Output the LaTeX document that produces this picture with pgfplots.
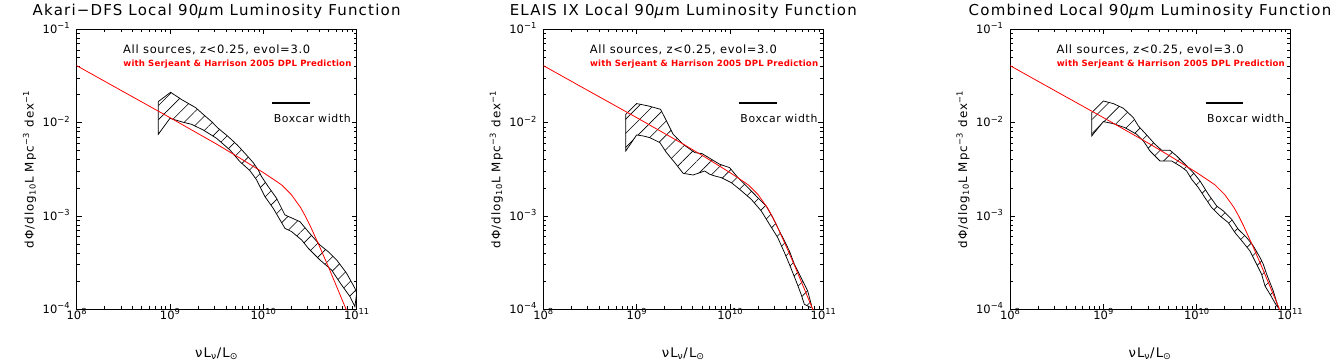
\documentclass[border=0pt]{standalone}
\usepackage{fontspec}
\setmainfont{DejaVu Sans}
\usepackage{graphicx}
\usepackage{pgfplots}
\usepackage{pgfplotstable}
\pgfplotsset{compat=1.18}
\usetikzlibrary{patterns.meta}

\definecolor{idlred}{RGB}{255,0,0}

\newcommand\ttlfont{\fontsize{15}{18}\selectfont\addfontfeatures{LetterSpace=8}}
\newcommand\tickfont{\fontsize{11.5}{13}\selectfont}
\newcommand\labfont{\fontsize{11.5}{14}\selectfont\addfontfeatures{LetterSpace=9}}
\newcommand\notefont{\fontsize{11.2}{13}\selectfont\addfontfeatures{LetterSpace=6}}
\newcommand\redfont{\fontsize{8.8}{11}\selectfont\bfseries\addfontfeatures{LetterSpace=2}}
% decade labels with an IDL-like raised exponent
\newcommand\dec[1]{10\raisebox{4.8pt}{\fontsize{8.3}{10}\selectfont #1}}

\tikzset{
  band/.style={draw=black, line width=0.75pt,
    pattern={Lines[angle=45,distance=10pt,line width=0.6pt]}},
  model/.style={color=idlred, line width=0.8pt},
}

\pgfplotsset{
  lfpanel/.style={
    scale only axis, width=280pt, height=280pt,
    anchor=south west, clip mode=individual,
    xmin=1e8, xmax=1e11, ymin=1e-4, ymax=1e-1,
    xtick={1e8,1e9,1e10,1e11},
    ytick={1e-4,1e-3,1e-2,1e-1},
    minor xtick={2e8,3e8,4e8,5e8,6e8,7e8,8e8,9e8,2e9,3e9,4e9,5e9,6e9,7e9,8e9,9e9,
                 2e10,3e10,4e10,5e10,6e10,7e10,8e10,9e10},
    minor ytick={2e-4,3e-4,4e-4,5e-4,6e-4,7e-4,8e-4,9e-4,2e-3,3e-3,4e-3,5e-3,6e-3,7e-3,8e-3,9e-3,
                 2e-2,3e-2,4e-2,5e-2,6e-2,7e-2,8e-2,9e-2},
    xticklabels={\dec{8},\dec{9},\dec{10},\dec{11}},
    yticklabels={\dec{−4},\dec{−3},\dec{−2},\dec{−1}},
    tick align=inside,
    major tick length=5pt, minor tick length=3pt,
    axis line style={line width=0.8pt},
    every tick/.style={black, line width=0.7pt},
    tick label style={font=\tickfont},
    xticklabel style={anchor=base, yshift=-10.5pt},
    yticklabel style={anchor=base east, xshift=-3.5pt, yshift=-4.3pt},
    xlabel={\resizebox{43pt}{!}{νL\textsubscript{ν}/L\textsubscript{⊙}}},
    ylabel={\resizebox{158pt}{!}{dΦ/dlog\textsubscript{10}L Mpc\textsuperscript{−3} dex\textsuperscript{−1}}},
    xlabel style={at={(axis description cs:0.5,-0.1714)}, anchor=base, font=\labfont},
    ylabel style={at={(axis description cs:-0.1536,0.5)}, anchor=base, font=\labfont},
    title style={at={(axis description cs:0.5,1.027)}, anchor=base, font=\ttlfont},
  }
}

\newcommand\panelnotes{%
  \node[anchor=base west, font=\notefont, inner sep=0pt] at (rel axis cs:0.1655,0.914)
    {\resizebox{187pt}{!}{All sources, z<0.25, evol=3.0}};
  \node[anchor=base west, font=\redfont, text=idlred, inner sep=0pt] at (rel axis cs:0.1665,0.867)
    {\resizebox{228pt}{!}{with Serjeant \& Harrison 2005 DPL Prediction}};
  \node[anchor=base west, font=\notefont, inner sep=0pt] at (rel axis cs:0.7035,0.6665)
    {\resizebox{77pt}{!}{Boxcar width}};
  \addplot[black, line width=2pt] coordinates {(1.247e10,0.01637) (3.162e10,0.01637)};
}

\pgfplotstableread{
L        phi
1e8      4.083e-2
3.162e8  2.148e-2
1e9      1.132e-2
3.162e9  5.888e-3
5.623e9  4.169e-3
1e10     2.917e-3
1.413e10 2.317e-3
1.585e10 2.138e-3
1.778e10 1.905e-3
1.995e10 1.698e-3
2.239e10 1.445e-3
2.512e10 1.230e-3
2.818e10 1.000e-3
3.162e10 7.943e-4
3.548e10 6.166e-4
3.981e10 4.786e-4
4.467e10 3.673e-4
5.012e10 2.818e-4
5.623e10 2.138e-4
6.310e10 1.622e-4
7.079e10 1.230e-4
7.943e10 9.333e-5
}\dplmodel

\begin{document}
\begin{tikzpicture}
\path[use as bounding box] (0,0) rectangle (1342pt,363pt);

% Akari-DFS
\begin{loglogaxis}[lfpanel, at={(76.6pt,53.7pt)},
  title={Akari−DFS Local 90\textit{μ}m Luminosity Function}]
\addplot[band] coordinates {
(7.499e8,1.679e-2) (1.016e9,2.113e-2) (1.355e9,1.750e-2) (1.884e9,1.449e-2)
(2.312e9,1.208e-2) (2.793e9,1.026e-2) (3.296e9,8.690e-3) (4.217e9,7.079e-3)
(5.260e9,5.768e-3) (6.368e9,4.688e-3) (7.816e9,3.724e-3) (8.831e9,3.112e-3)
(9.594e9,2.636e-3) (1.132e10,2.061e-3) (1.390e10,1.545e-3) (1.706e10,1.026e-3)
(2.472e10,8.690e-4) (3.034e10,6.792e-4) (4.046e10,4.887e-4) (4.966e10,4.150e-4)
(6.109e10,3.381e-4) (7.816e10,2.432e-4) (9.594e10,1.679e-4) (1e11,1.483e-4)
(9.594e10,1.069e-4) (8.492e10,1.368e-4) (6.902e10,1.824e-4) (5.395e10,2.636e-4)
(4.046e10,3.381e-4) (3.034e10,4.508e-4) (2.576e10,5.534e-4) (2.014e10,6.792e-4)
(1.706e10,7.379e-4) (1.279e10,1.208e-3) (1.042e10,1.611e-3) (8.492e9,2.432e-3)
(7.194e9,3.062e-3) (5.623e9,3.819e-3) (4.395e9,5.093e-3) (3.162e9,6.792e-3)
(2.275e9,8.337e-3) (1.706e9,9.594e-3) (1.390e9,1.009e-2) (1e9,1.112e-2)
(7.499e8,7.499e-3) (7.499e8,1.679e-2)};
\addplot[model] table[x=L, y=phi] {\dplmodel};
\panelnotes
\end{loglogaxis}

% ELAIS
\begin{loglogaxis}[lfpanel, at={(543.3pt,53.7pt)},
  title={ELAIS IX Local 90\textit{μ}m Luminosity Function}]
\addplot[band] coordinates {
(7.638e8,1.227e-2) (1e9,1.600e-2) (1.334e9,1.510e-2) (1.803e9,1.390e-2)
(2.089e9,1.042e-2) (2.460e9,7.499e-3) (3.148e9,5.861e-3) (4.198e9,4.775e-3)
(5.023e9,4.656e-3) (6.324e9,4.046e-3) (7.762e9,3.581e-3) (9.908e9,3.296e-3)
(1.216e10,2.576e-3) (1.556e10,2.014e-3) (1.991e10,1.570e-3) (2.443e10,1.279e-3)
(2.877e10,9.594e-4) (3.388e10,6.902e-4) (3.837e10,5.395e-4) (4.335e10,4.217e-4)
(4.898e10,3.034e-4) (5.781e10,2.183e-4) (6.808e10,1.570e-4) (7.499e10,1.086e-4)
(7.379e10,1.042e-4) (6.266e10,1.132e-4) (5.781e10,1.449e-4) (5.105e10,2.014e-4)
(4.335e10,3.034e-4) (3.837e10,4.046e-4) (3.251e10,5.861e-4) (2.649e10,8.147e-4)
(2.163e10,1.132e-3) (1.690e10,1.510e-3) (1.268e10,1.932e-3) (1.033e10,2.275e-3)
(8.072e9,2.576e-3) (6.855e9,2.685e-3) (6.067e9,2.793e-3) (5.370e9,3.034e-3)
(4.027e9,2.748e-3) (3.148e9,2.864e-3) (2.564e9,3.724e-3) (2.089e9,4.775e-3)
(1.774e9,6.109e-3) (1.387e9,6.902e-3) (1.178e9,7.194e-3) (1e9,7.379e-3)
(7.638e8,4.966e-3) (7.638e8,1.227e-2)};
\addplot[model] table[x=L, y=phi] {\dplmodel};
\panelnotes
\end{loglogaxis}

% Combined
\begin{loglogaxis}[lfpanel, at={(1010pt,53.7pt)},
  title={Combined Local 90\textit{μ}m Luminosity Function}]
\addplot[band] coordinates {
(7.499e8,1.279e-2) (1e9,1.706e-2) (1.279e9,1.600e-2) (1.637e9,1.426e-2)
(2.094e9,1.132e-2) (2.371e9,9.204e-3) (2.911e9,7.379e-3) (3.581e9,5.861e-3)
(4.217e9,5.058e-3) (5.176e9,5.058e-3) (6.109e9,4.395e-3) (7.499e9,3.581e-3)
(9.204e9,2.911e-3) (1.086e10,2.371e-3) (1.334e10,1.706e-3) (1.637e10,1.279e-3)
(1.932e10,1.132e-3) (2.371e10,9.204e-4) (2.793e10,7.194e-4) (3.436e10,5.861e-4)
(4.046e10,4.775e-4) (4.775e10,3.581e-4) (5.176e10,3.034e-4) (5.623e10,2.371e-4)
(6.622e10,1.570e-4) (7.499e10,1.042e-4)
(7.194e10,1.086e-4) (6.109e10,1.449e-4) (5.395e10,1.778e-4) (4.966e10,2.371e-4)
(4.217e10,3.296e-4) (3.724e10,4.217e-4) (3.162e10,5.176e-4) (2.576e10,6.622e-4)
(2.183e10,8.492e-4) (1.778e10,1.000e-3) (1.449e10,1.227e-3) (1.227e10,1.570e-3)
(1.042e10,2.014e-3) (8.831e9,2.472e-3) (7.816e9,3.034e-3) (6.622e9,3.436e-3)
(5.395e9,3.882e-3) (4.046e9,3.882e-3) (3.162e9,4.966e-3) (2.685e9,6.368e-3)
(2.275e9,7.499e-3) (1.706e9,8.831e-3) (1.279e9,9.750e-3) (1e9,1.026e-2)
(7.499e8,7.194e-3) (7.499e8,1.279e-2)};
\addplot[model] table[x=L, y=phi] {\dplmodel};
\panelnotes
\end{loglogaxis}
\end{tikzpicture}
\end{document}
